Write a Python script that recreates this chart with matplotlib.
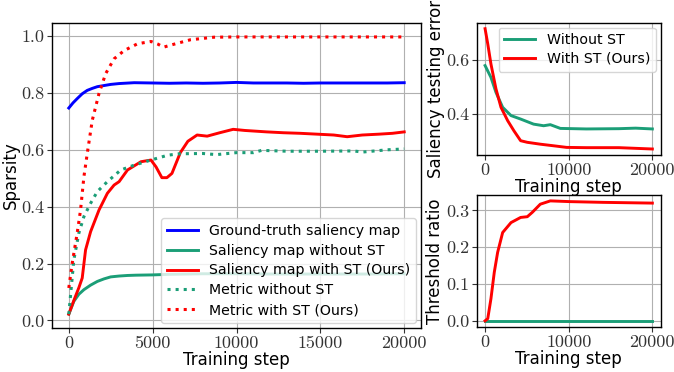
import matplotlib
matplotlib.use("Agg")
import matplotlib.pyplot as plt

GREEN = "#1b9e77"
BLUE = "#0000ff"
RED = "#ff0000"

# ---- Left panel: sparsity ----
gt_steps = [0, 250, 500, 800, 1100, 1400, 1700, 2100, 2500, 3000, 3900, 5000, 6000, 7000, 8000, 9000,
            10000, 11000, 12000, 13000, 14000, 15000, 16000, 17000, 18000, 19000, 20000]
gt_vals = [0.747, 0.765, 0.780, 0.797, 0.809, 0.816, 0.822, 0.826, 0.830, 0.833, 0.836, 0.835, 0.834, 0.835,
           0.834, 0.835, 0.837, 0.835, 0.835, 0.835, 0.834, 0.835, 0.835, 0.835, 0.835, 0.835, 0.836]

nost_steps = [0, 300, 600, 900, 1300, 1700, 2100, 2500, 3000, 3500, 4000, 5000, 6000, 8000, 10000,
              12000, 14000, 16000, 18000, 20000]
nost_vals = [0.022, 0.067, 0.092, 0.108, 0.124, 0.137, 0.146, 0.153, 0.156, 0.158, 0.159, 0.160, 0.162,
             0.164, 0.164, 0.163, 0.163, 0.163, 0.163, 0.164]

st_steps = [0, 300, 600, 800, 1000, 1300, 1800, 2300, 2700, 3000, 3500, 4300, 4900, 5200, 5550, 5850,
            6150, 6650, 7100, 7650, 8250, 9000, 9800, 10500, 11800, 12800, 13800, 14800, 15800, 16600,
            17500, 18500, 19300, 20000]
st_vals = [0.022, 0.070, 0.115, 0.149, 0.248, 0.312, 0.388, 0.447, 0.476, 0.488, 0.529, 0.558, 0.564,
           0.540, 0.502, 0.502, 0.517, 0.590, 0.630, 0.652, 0.648, 0.660, 0.672, 0.668, 0.663, 0.660,
           0.658, 0.655, 0.652, 0.646, 0.652, 0.655, 0.658, 0.663]

mnost_steps = [0, 300, 600, 900, 1300, 1700, 2300, 3100, 3900, 4900, 5900, 6600, 8000, 8800, 10000,
               11000, 11500, 13000, 15000, 17000, 17500, 19000, 20000]
mnost_vals = [0.022, 0.213, 0.307, 0.365, 0.412, 0.453, 0.488, 0.529, 0.546, 0.564, 0.581, 0.586, 0.587,
              0.583, 0.590, 0.590, 0.598, 0.595, 0.595, 0.596, 0.592, 0.600, 0.603]

mst_steps = [0, 200, 500, 700, 900, 1100, 1400, 1800, 2200, 2700, 3300, 4100, 4600, 4900, 5300, 5650,
             6250, 7250, 8650, 10000, 12000, 14000, 16000, 18000, 20000]
mst_vals = [0.114, 0.200, 0.307, 0.388, 0.505, 0.587, 0.704, 0.798, 0.868, 0.920, 0.949, 0.973, 0.978,
            0.981, 0.972, 0.961, 0.971, 0.987, 0.996, 0.997, 0.997, 0.997, 0.997, 0.997, 0.997]

# ---- Right top: saliency testing error ----
err_nost_steps = [0, 700, 1300, 2100, 3100, 4250, 5800, 7000, 7800, 9000, 12100, 16000, 18000, 20000]
err_nost_vals = [0.580, 0.536, 0.480, 0.424, 0.393, 0.380, 0.361, 0.355, 0.359, 0.345, 0.343, 0.344,
                 0.346, 0.343]
err_st_steps = [0, 320, 700, 1300, 1900, 2700, 3450, 4250, 5050, 6600, 8200, 9750, 12100, 16000, 20000]
err_st_vals = [0.718, 0.661, 0.586, 0.493, 0.424, 0.374, 0.336, 0.299, 0.293, 0.286, 0.280, 0.274,
               0.273, 0.273, 0.268]

# ---- Right bottom: threshold ratio ----
thr_st_steps = [0, 320, 700, 1100, 1500, 2100, 3100, 4250, 5050, 5650, 6600, 7800, 10150, 14100, 20000]
thr_st_vals = [0.0, 0.006, 0.060, 0.132, 0.186, 0.240, 0.267, 0.281, 0.283, 0.295, 0.317, 0.326, 0.324,
               0.322, 0.320]
thr_nost_steps = [0, 20000]
thr_nost_vals = [0.0, 0.0]

TICKFONT = "cmr10"
TICKSIZE = 13
LABELSIZE = 12
LEGSIZE = 10.2

fig = plt.figure(figsize=(6.74, 3.72), dpi=100)
ax = fig.add_axes([0.0772, 0.1183, 0.5474, 0.8197])
ax2 = fig.add_axes([0.7073, 0.5833, 0.2730, 0.3557])
ax3 = fig.add_axes([0.7073, 0.1218, 0.2730, 0.3540])

lw = 2.1
ax.plot(gt_steps, gt_vals, color=BLUE, lw=lw, label="Ground-truth saliency map")
ax.plot(nost_steps, nost_vals, color=GREEN, lw=lw, label="Saliency map without ST")
ax.plot(st_steps, st_vals, color=RED, lw=lw, label="Saliency map with ST (Ours)")
ax.plot(mnost_steps, mnost_vals, color=GREEN, lw=2.2, ls=":", label="Metric without ST")
ax.plot(mst_steps, mst_vals, color=RED, lw=2.2, ls=":", label="Metric with ST (Ours)")
ax.set_xticks([0, 5000, 10000, 15000, 20000])
ax.set_yticks([0.0, 0.2, 0.4, 0.6, 0.8, 1.0])
ax.set_xlabel("Training step", fontsize=LABELSIZE, labelpad=0)
ax.set_ylabel("Sparsity", fontsize=LABELSIZE, labelpad=1)
ax.legend(loc="lower right", fontsize=LEGSIZE, handlelength=2.2, borderaxespad=0.35,
          labelspacing=0.42, framealpha=0.8)

ax2.plot(err_nost_steps, err_nost_vals, color=GREEN, lw=lw, label="Without ST")
ax2.plot(err_st_steps, err_st_vals, color=RED, lw=lw, label="With ST (Ours)")
ax2.set_xticks([0, 10000, 20000])
ax2.set_yticks([0.4, 0.6])
ax2.set_xlabel("Training step", fontsize=LABELSIZE, labelpad=0)
ax2.set_ylabel("Saliency testing error", fontsize=LABELSIZE, labelpad=1)
ax2.legend(loc="upper right", fontsize=LEGSIZE, handlelength=2.2, borderaxespad=0.35,
           labelspacing=0.33, framealpha=0.8)

ax3.plot(thr_nost_steps, thr_nost_vals, color=GREEN, lw=lw)
ax3.plot(thr_st_steps, thr_st_vals, color=RED, lw=lw)
ax3.set_ylim(-0.016, 0.342)
ax3.set_xticks([0, 10000, 20000])
ax3.set_yticks([0.0, 0.1, 0.2, 0.3])
ax3.set_xlabel("Training step", fontsize=LABELSIZE, labelpad=0)
ax3.set_ylabel("Threshold ratio", fontsize=LABELSIZE, labelpad=1)

for a in (ax, ax2, ax3):
    a.grid(True, color="#b0b0b0", lw=0.8)
    a.set_axisbelow(True)
    a.tick_params(labelsize=TICKSIZE, labelfontfamily=TICKFONT, length=3.5, width=0.8,
                  color="#333333", labelcolor="#333333", pad=2)
    for s in a.spines.values():
        s.set_color("black")
        s.set_linewidth(1.0)

fig.savefig("out.png", dpi=100)
